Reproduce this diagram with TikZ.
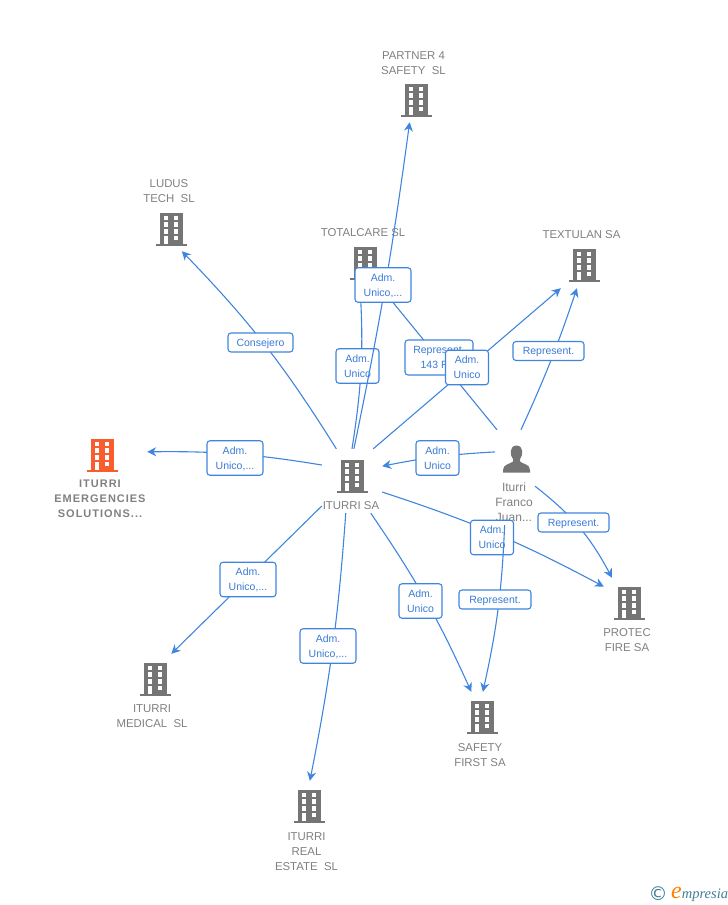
\documentclass[tikz,border=0pt]{standalone}
\usepackage{fontspec}
\setmainfont{Liberation Sans}
\newfontfamily\logofont{Liberation Serif}
\newfontfamily\copyfont{DejaVu Sans}
\usetikzlibrary{arrows.meta}
\definecolor{linkblue}{HTML}{3F85E0}
\definecolor{boxtext}{HTML}{3A7BD5}
\definecolor{bldggray}{HTML}{757575}
\definecolor{namegray}{HTML}{808080}
\definecolor{bldgorange}{HTML}{F95D2D}
\definecolor{logoteal}{HTML}{3F7F95}
\tikzset{
  hub/.style={rectangle,inner sep=0pt},
  link/.style={-{Stealth[length=9pt,width=9pt]},color=linkblue,line width=1.1pt},
  nametxt/.style={align=center,inner sep=0pt,text=namegray,font=\fontsize{11.4}{15}\selectfont},
  lbl/.style={draw=linkblue,fill=white,rounded corners=3pt,line width=1.1pt,inner sep=0pt,
    align=center,text=boxtext,font=\fontsize{10.5}{15}\selectfont},
  shortbox/.style={lbl,text depth=-2pt,minimum width=43pt,minimum height=34.5pt},
  widebox/.style={lbl,text depth=-2pt,minimum width=56pt,minimum height=34.5pt},
  thinbox/.style={lbl,text depth=0pt,minimum height=19pt},
  bldg/.pic={
    \fill[pic actions] (-11.5,-16.5) rectangle (11.5,14.5);
    \fill[pic actions] (-15.5,14.5) rectangle (15.5,16.5);
    \foreach \wy in {-13.3,-6.6,0.1}
      \foreach \wx in {-7.4,2.7}
        \fill[white] (\wx,\wy) rectangle ++(4.7,4.4);
    \fill[white] (-7.4,6.8) rectangle ++(4.7,7.7);
    \fill[white] (2.7,6.8) rectangle ++(4.7,4.4);
  },
  man/.pic={
    \fill[pic actions] (0,-13.5) .. controls (-7,-13.5) and (-7,-4) .. (-3.5,0)
      -- (-3.5,2.5) .. controls (-6,5) and (-13.5,5) .. (-13.5,11) -- (-13.5,13.5)
      -- (13.5,13.5) -- (13.5,11) .. controls (13.5,5) and (6,5) .. (3.5,2.5)
      -- (3.5,0) .. controls (7,-4) and (7,-13.5) .. (0,-13.5) -- cycle;
  }
}
\begin{document}
\begin{tikzpicture}[x=1pt,y=-1pt]
  \useasboundingbox (0,0) rectangle (728,905);

  % buildings
  \foreach \nm/\pos/\sz in {partner/{416,100}/44,ludus/{171,229}/44,totalcare/{365,263}/50,
      textulan/{584,265}/46,medical/{155,679}/50,realestate/{309,806}/50,
      safety/{482,717}/50,protec/{629,603}/50}
  {
    \node[hub,minimum size=\sz pt] (\nm) at (\pos) {};
    \pic[fill=bldggray] at (\nm) {bldg};
  }
  \node[hub,minimum size=90pt] (emergencies) at (102,455) {};
  \pic[fill=bldgorange] at (emergencies) {bldg};
  \node[hub,minimum width=60pt,minimum height=54pt] (iturri) at (352,476) {};
  \pic[fill=bldggray] at (iturri) {bldg};
  \node[hub,minimum width=42pt,minimum height=56pt] (person) at (516,458) {};
  \pic[fill=bldggray] at (516.5,459) {man};

  % names
  \node[nametxt] (partnername) at (413.5,63.5) {PARTNER 4\\SAFETY\ \ SL};
  \node[nametxt] (ludusname) at (169,191.5) {LUDUS\\TECH\ \ SL};
  \node[nametxt] (totalcarename) at (363,233) {TOTALCARE SL};
  \node[nametxt] (textulanname) at (581.5,235) {TEXTULAN SA};
  \node[nametxt,font=\fontsize{11}{15}\selectfont\bfseries\addfontfeatures{LetterSpace=9}] (emergenciesname) at (100,498.5) {ITURRI\\EMERGENCIES\\SOLUTIONS...};
  \node[nametxt,minimum width=58pt,minimum height=14pt] (iturriname) at (351,506) {ITURRI SA};
  \node[nametxt,font=\fontsize{12}{15}\selectfont,minimum width=40pt,minimum height=46pt] (personname) at (514,502) {Iturri\\Franco\\Juan...};
  \node[nametxt] (medicalname) at (152,716.5) {ITURRI\\MEDICAL\ \ SL};
  \node[nametxt] (realestatename) at (306.5,852) {ITURRI\\REAL\\ESTATE\ \ SL};
  \node[nametxt] (safetyname) at (480,755.5) {SAFETY\\FIRST SA};
  \node[nametxt] (protecname) at (627,640.5) {PROTEC\\FIRE SA};

  % links
  \draw[link] (iturri.120.6) to[bend right=6] (ludus.296.6);
  \node[thinbox,minimum width=65pt] (ludusbox) at (260.5,342.5) {Consejero};

  \draw[link] (iturri.160) to[bend right=5] (emergencies.4);
  \node[widebox] (emergenciesbox) at (235,458) {Adm.\\Unico,...};

  \draw[link] (iturriname.west) -- (medical.57);
  \node[widebox] (medicalbox) at (248,579.5) {Adm.\\Unico,...};

  \draw[link] (iturriname.234) to[bend left=3.5] (realestate.88);
  \node[widebox] (realestatebox) at (328,646) {Adm.\\Unico,...};

  \draw[link] (iturriname.340) to[bend left=5] (safety.113);
  \node[shortbox] (safetybox) at (420.5,601) {Adm.\\Unico};

  \draw[link] (iturri.north) to[bend right=6] (totalcare.259);
  \node[shortbox] (totalcarebox) at (357.5,366) {Adm.\\Unico};

  \draw[link] (person.124) -- (totalcare.303);
  \node[thinbox,text depth=-2pt,minimum width=68pt,minimum height=35pt] (personbox) at (439,357.5) {Represent.\\143 R...};

  \draw[link] (iturri.86) to[bend right=2] (partner.254.7);
  \node[widebox] (partnerbox) at (383,285) {Adm.\\Unico,...};

  \draw[link] (iturri.52) -- (textulan.225);
  \node[shortbox] (textulanbox) at (467,367.5) {Adm.\\Unico};

  \draw[link] (person.80) to[bend right=3] (textulan.253);
  \node[thinbox,minimum width=71pt] (persontextulanbox) at (548.5,351) {Represent.};

  \draw[link] (person.164) to[bend right=4] (iturri.18);
  \node[shortbox] (personiturribox) at (437.5,458) {Adm.\\Unico};

  \draw[link] (person.304) to[bend left=12] (protec.124);
  \node[thinbox,minimum width=71pt] (personprotecbox) at (573.5,522.5) {Represent.};

  \draw[link] (iturri.332) to[bend left=5] (protec.147);
  \node[shortbox] (protecbox) at (492,537.5) {Adm.\\Unico};

  \draw[link] (personname.248.6) to[bend left=5] (safety.88);
  \node[thinbox,minimum width=72pt] (personsafetybox) at (495,599.5) {Represent.};

  % logo
  \node[inner sep=0pt,text=logoteal,font=\copyfont\fontsize{19}{19}\selectfont] (logoc) at (658,894) {©};
  \node[inner sep=0pt,anchor=base west,text=logoteal,font=\logofont\itshape\fontsize{14.5}{15}\selectfont] (logotext) at (671,898) {{\color{orange}\fontsize{24}{24}\selectfont e}mpresia};
\end{tikzpicture}
\end{document}
